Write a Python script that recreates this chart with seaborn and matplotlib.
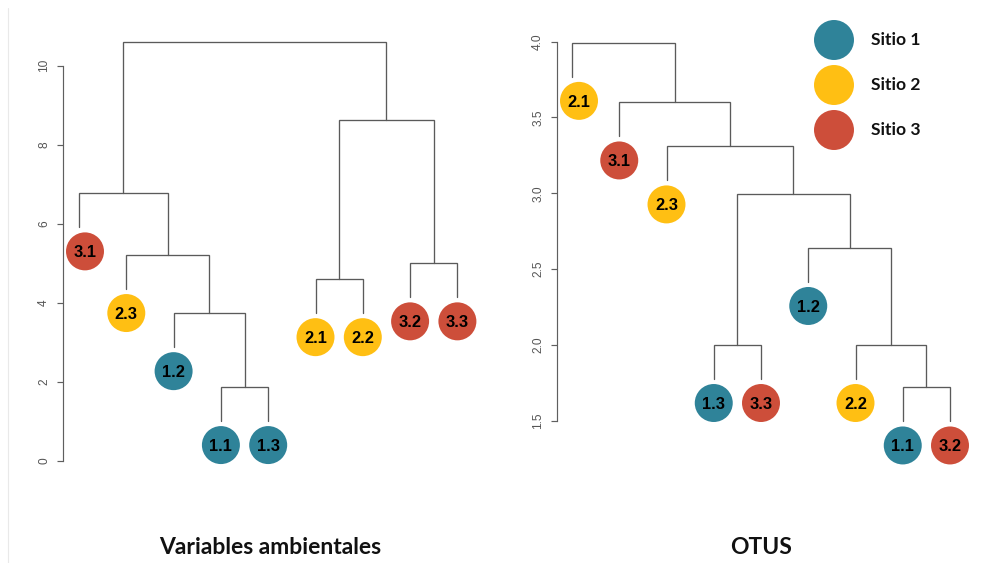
import numpy as np
import pandas as pd
import matplotlib
matplotlib.use("Agg")
import matplotlib.pyplot as plt
import matplotlib.transforms as mtransforms
from matplotlib.lines import Line2D
import seaborn as sns

# ---- sites ----
site_names = ["Sitio 1", "Sitio 2", "Sitio 3"]
site_colors = ["#2F8399", "#FFBF13", "#CD4E3A"]

# ---- environmental variables clustering ----
# leaves in plotting order; merges follow hclust convention:
# negative = leaf (1-based position in leaf order), positive = earlier merge
env_leaves = ["3.1", "2.3", "1.2", "1.1", "1.3", "2.1", "2.2", "3.2", "3.3"]
env_merge_a = [-4, -3, -6, -8, -2, -1, 3, 6]
env_merge_b = [-5, 1, -7, -9, 2, 5, 4, 7]
env_heights = [1.87, 3.74, 4.60, 5.00, 5.21, 6.77, 8.63, 10.59]
env_hang = 0.86
env_ticks = [0, 2, 4, 6, 8, 10]
env_tick_labels = ["0", "2", "4", "6", "8", "10"]

# ---- OTU clustering ----
otu_leaves = ["2.1", "3.1", "2.3", "1.3", "3.3", "1.2", "2.2", "1.1", "3.2"]
otu_merge_a = [-8, -4, -7, -6, 2, -3, -2, -1]
otu_merge_b = [-9, -5, 1, 3, 4, 5, 6, 7]
otu_heights = [1.72, 2.00, 2.00, 2.64, 2.995, 3.31, 3.60, 3.993]
otu_hang = 0.225
otu_ticks = [1.5, 2.0, 2.5, 3.0, 3.5, 4.0]
otu_tick_labels = ["1.5", "2.0", "2.5", "3.0", "3.5", "4.0"]

W, H = 982, 563
DPI = 100
LINE_COLOR = "#5a5a5a"
AXIS_COLOR = "#5f5f5f"
TITLE_FONT = ["Lato", "DejaVu Sans"]

sns.set_theme(style="white")
plt.rcParams["font.family"] = ["Liberation Sans", "DejaVu Sans"]

fig = plt.figure(figsize=(W / DPI, H / DPI), dpi=DPI)
fig.patch.set_facecolor("white")


def px_axes(x0, y0, x1, y1):
    """Axes placed by pixel box (origin top-left)."""
    return fig.add_axes([x0 / W, 1 - y1 / H, (x1 - x0) / W, (y1 - y0) / H])


def draw_dendrogram(ax, leaves, merge_a, merge_b, heights, hang, nudge_px):
    node_x, node_h = [], []
    leaf_end = np.zeros(len(leaves))

    def child(ref, h):
        if ref < 0:
            i = -ref - 1
            leaf_end[i] = h - hang
            return float(i), h - hang
        return node_x[ref - 1], node_h[ref - 1]

    for a, b, h in zip(merge_a, merge_b, heights):
        xa, ya = child(a, h)
        xb, yb = child(b, h)
        ax.plot([xa, xa, xb, xb], [ya, h, h, yb], color=LINE_COLOR,
                lw=0.95, solid_joinstyle="miter", zorder=2)
        node_x.append((xa + xb) / 2)
        node_h.append(h)

    # leaf markers sit a fixed distance below the end of each leaf stem
    fig.canvas.draw()
    bb = ax.get_window_extent()
    x_per_px = (ax.get_xlim()[1] - ax.get_xlim()[0]) / bb.width
    pos = np.arange(len(leaves), dtype=float)
    pos += np.array([nudge_px.get(lab, 0) for lab in leaves]) * x_per_px
    df = pd.DataFrame({
        "pos": pos,
        "end": leaf_end,
        "label": leaves,
        "site": ["Sitio " + lab.split(".")[0] for lab in leaves],
    })
    below = mtransforms.offset_copy(ax.transData, fig=fig, y=-24, units="dots")
    sns.scatterplot(data=df, x="pos", y="end", hue="site", hue_order=site_names,
                    palette=site_colors, s=748, linewidth=0, legend=False,
                    ax=ax, transform=below, zorder=3, clip_on=False)
    for _, r in df.iterrows():
        ax.text(r["pos"], r["end"], r["label"], transform=below, ha="center",
                va="center_baseline", fontsize=11.8, fontweight="bold",
                color="black", zorder=4)
    ax.set_xlabel("")
    ax.set_ylabel("")


def style_axis(ax, ticks, labels, xlim, ylim):
    ax.set_xlim(*xlim)
    ax.set_ylim(*ylim)
    for s in ["top", "right", "bottom"]:
        ax.spines[s].set_visible(False)
    ax.spines["left"].set_color(AXIS_COLOR)
    ax.spines["left"].set_linewidth(0.85)
    ax.spines["left"].set_bounds(ticks[0], ticks[-1])
    ax.set_xticks([])
    ax.set_yticks(ticks)
    ax.set_yticklabels(labels, rotation=90, va="center", ha="right")
    ax.tick_params(axis="y", direction="out", length=4.3, width=0.85,
                   color=AXIS_COLOR, labelcolor="#555555", labelsize=8.6,
                   pad=5, left=True)
    ax.set_xlabel("")
    ax.set_ylabel("")
    ax.grid(False)
    ax.set_facecolor("none")


# left panel: environmental variables
ax_env = px_axes(63, 30, 500, 475)
env_xlim = ((63 - 79) / 47.3, (500 - 79) / 47.3)
env_ylim = ((461 - 475) / 39.53, (461 - 30) / 39.53)
style_axis(ax_env, env_ticks, env_tick_labels, env_xlim, env_ylim)
draw_dendrogram(ax_env, env_leaves, env_merge_a, env_merge_b, env_heights,
                env_hang, {"3.1": 6})
ax_env.set_xlim(*env_xlim)
ax_env.set_ylim(*env_ylim)

# right panel: OTUs
ax_otu = px_axes(557, 30, 980, 475)
otu_xlim = ((557 - 572) / 47.25, (980 - 572) / 47.25)
otu_ylim = (4.0 - (475 - 41.7) / 151.6, 4.0 - (30 - 41.7) / 151.6)
style_axis(ax_otu, otu_ticks, otu_tick_labels, otu_xlim, otu_ylim)
draw_dendrogram(ax_otu, otu_leaves, otu_merge_a, otu_merge_b, otu_heights,
                otu_hang, {"2.1": 7})
ax_otu.set_xlim(*otu_xlim)
ax_otu.set_ylim(*otu_ylim)

# overlay in pixel coordinates for legend, titles and frame edge
ov = fig.add_axes([0, 0, 1, 1], zorder=5)
ov.patch.set_alpha(0)

legend_df = pd.DataFrame({"x": [834, 834, 834], "y": [40, 85, 130],
                          "site": site_names})
sns.scatterplot(data=legend_df, x="x", y="y", hue="site", hue_order=site_names,
                palette=site_colors, s=829, linewidth=0, legend=False, ax=ov,
                clip_on=False)
ov.set_xlim(0, W)
ov.set_ylim(H, 0)
ov.axis("off")
for _, r in legend_df.iterrows():
    ov.text(871, r["y"], r["site"], ha="left", va="center", fontsize=12.6,
            fontweight="bold", family=TITLE_FONT, color="#111111")

ov.text(270, 548, "Variables ambientales", ha="center", va="center",
        fontsize=16.5, fontweight="bold", family=TITLE_FONT, color="#111111")
ov.text(761, 548, "OTUS", ha="center", va="center", fontsize=16.5,
        fontweight="bold", family=TITLE_FONT, color="#111111")

ov.add_line(Line2D([8, 8], [8, H], color="#e9e9e9", lw=0.8))

fig.savefig("out.png", dpi=DPI, facecolor="white")
